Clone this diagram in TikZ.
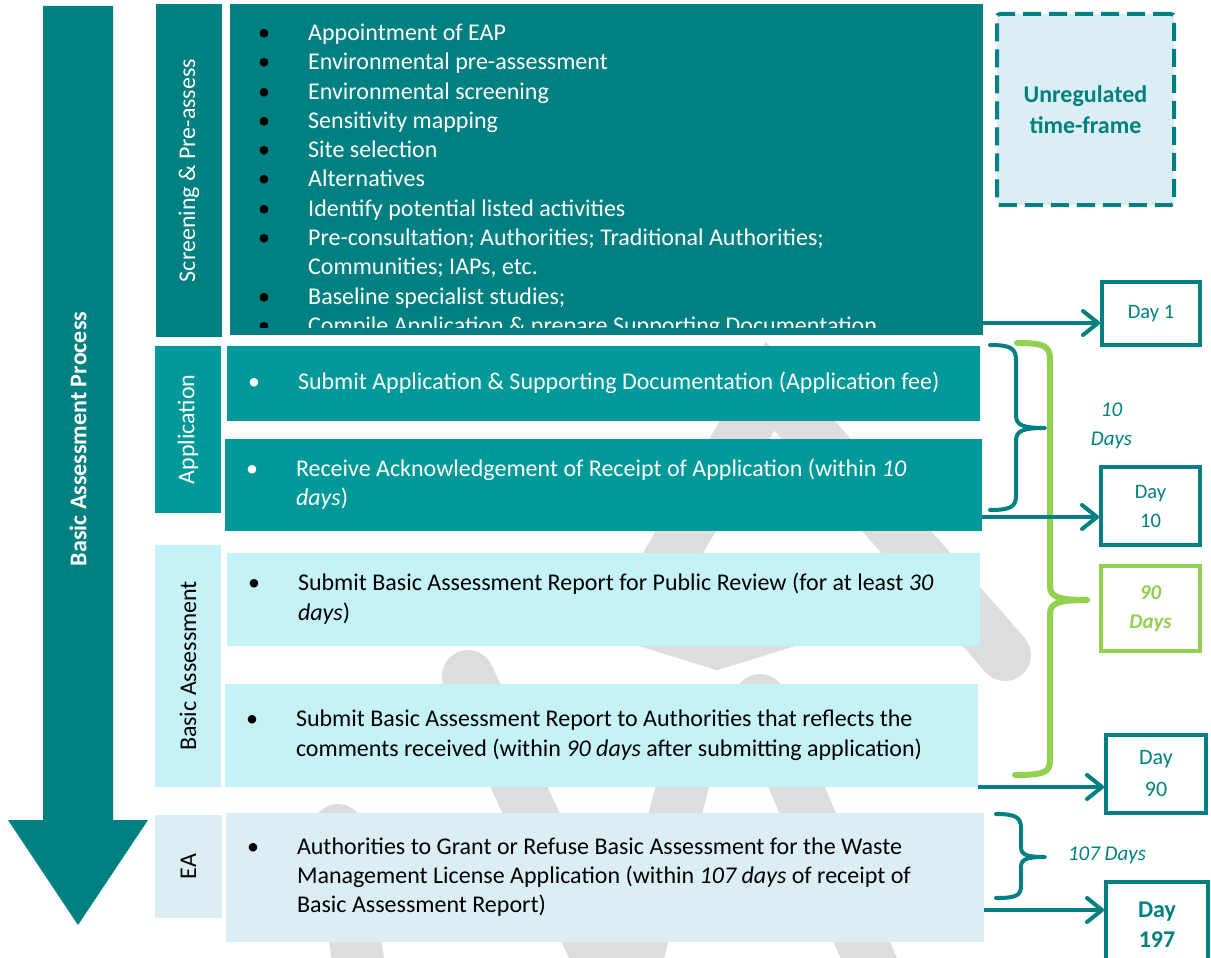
\documentclass[tikz,border=0pt]{standalone}
\usepackage{fontspec}
\setmainfont{Carlito}
\usetikzlibrary{arrows.meta}
\definecolor{tealdark}{HTML}{008080}
\definecolor{tealmid}{HTML}{009999}
\definecolor{cyanlight}{HTML}{C4F2F7}
\definecolor{bluelight}{HTML}{DAEEF3}
\definecolor{limegreen}{HTML}{92D050}
\definecolor{wmgray}{HTML}{DDDDDD}
\newcommand{\bodyfont}{\fontsize{24}{29.3}\selectfont}
\newcommand{\blk}{\textcolor{black}{\textbullet}}
\newcommand{\bpt}[2][.]{\spaceskip=0pt\xspaceskip=0pt\relax\begin{tabular}[t]{@{}p{50pt}@{}l@{}}\textcolor{#1}{\textbullet} & #2\end{tabular}}
\begin{document}
\begin{tikzpicture}[x=1pt, y=-1pt,
  wmline/.style={draw=wmgray, line width=52pt, line cap=round, line join=miter},
  stage/.style={fill=#1, inner sep=0pt, outer sep=0pt, anchor=north west},
  task/.style={stage=#1, inner xsep=21pt, inner ysep=0pt, font=\bodyfont},
  phase/.style={fill=#1, rotate=90, inner sep=0pt, outer sep=0pt, font=\bodyfont},
  daybox/.style={draw=tealdark, line width=4pt, fill=white, align=center, inner sep=0pt, text=tealdark},
  link/.style={draw=tealdark, line width=4pt, -{Straight Barb[length=15pt, width=24pt, round]}},
  curly/.style={draw=tealdark, line width=4pt, line cap=round, line join=round}]
\useasboundingbox (0,0) rectangle (1211,958);
% watermark
\draw[wmline] (640,610) -- (770,386) -- (1005,655);
\draw[wmline] (617,612) -- (717,643) -- (817,612);
\draw[wmline] (468,676) -- (610,985);
\draw[wmline] (338,830) -- (362,985);
\draw[wmline] (700,720) -- (630,985);
\draw[wmline] (760,700) -- (880,985);
% process arrow
\fill[tealdark] (43,6) -- (113,6) -- (113,820) -- (148,820) -- (78,925) -- (8,820) -- (43,820) -- cycle;
\node[rotate=90, text=white, font=\bfseries\fontsize{24}{29}\selectfont] (proc) at (78,439) {Basic Assessment Process};
% phases
\node[phase=tealdark, text=white, minimum width=333pt, minimum height=66pt] (scrh) at (189,170.5) {Screening \& Pre-assess};
\node[phase=tealmid, text=white, minimum width=167pt, minimum height=66pt] (apph) at (188,429.5) {Application};
\node[phase=cyanlight, text=black, minimum width=242pt, minimum height=66pt] (bah) at (188,666) {Basic Assessment};
\node[phase=bluelight, text=black, minimum width=103pt, minimum height=67pt] (eah) at (188.5,866.5) {EA};
% screening box
\node[stage=tealdark, minimum width=753pt, minimum height=331pt] (scr) at (230,4) {};
\begin{scope}
\clip (scr.north west) rectangle ([yshift=8pt]scr.south east);
\node[anchor=base west, inner sep=0pt, text=white, font=\bodyfont] (scrt) at (258,40.5) {\begin{tabular}[t]{@{}p{50pt}@{}l@{}}
\blk & Appointment of EAP\\
\blk & Environmental pre-assessment\\
\blk & Environmental screening\\
\blk & Sensitivity mapping\\
\blk & Site selection\\
\blk & Alternatives\\
\blk & Identify potential listed activities\\
\blk & Pre-consultation; Authorities; Traditional Authorities;\\
     & Communities; IAPs, etc.\\
\blk & Baseline specialist studies;\\
\blk & Compile Application \& prepare Supporting Documentation
\end{tabular}};
\end{scope}
% task boxes
\node[task=tealmid, text=white, text width=711pt, minimum height=75pt] (app1) at (227,346) {\bpt{Submit Application \& Supporting Documentation (Application fee)}};
\node[task=tealmid, text=white, text width=715pt, minimum height=92pt] (app2) at (225,439) {\bpt{Receive Acknowledgement of Receipt of Application (within \textit{10}\\ & \textit{days})}};
\node[task=cyanlight, text=black, text width=711pt, minimum height=93pt] (ba1) at (227,553) {\bpt{Submit Basic Assessment Report for Public Review (for at least \textit{30}\\ & \textit{days})}};
\node[task=cyanlight, text=black, text width=711pt, minimum height=103pt] (ba2) at (225,684) {\bpt{Submit Basic Assessment Report to Authorities that reflects the\\ & comments received (within \textit{90 days} after submitting application)}};
\node[task=bluelight, text=black, text width=716pt, minimum height=129pt] (ea) at (226,813) {\bpt{Authorities to Grant or Refuse Basic Assessment for the Waste\\ & Management License Application (within \textit{107 days} of receipt of\\ & Basic Assessment Report)}};
% unregulated
\node[draw=tealdark, line width=4pt, dash pattern=on 18pt off 8pt, rounded corners=3pt, fill=bluelight, minimum width=177pt, minimum height=191pt, align=center, text=tealdark, font=\bfseries\fontsize{24}{31}\selectfont] (unreg) at (1085.5,109.5) {Unregulated\\time-frame};
% braces
\draw[draw=limegreen, line width=6pt, line cap=round, line join=round] (1017,343) .. controls (1045,343) and (1050,346) .. (1050,360) -- (1050,586) .. controls (1050,597) and (1058,600) .. (1087,600) .. controls (1058,600) and (1050,603) .. (1050,614) -- (1050,760) .. controls (1050,772) and (1045,775) .. (1015,775);
\draw[curly] (990,345) .. controls (1010,345) and (1016,348) .. (1016,360) -- (1016,415) .. controls (1016,425) and (1022,428) .. (1045,428) .. controls (1022,428) and (1016,431) .. (1016,441) -- (1016,496) .. controls (1016,507) and (1010,510) .. (990,510);
\draw[curly] (996,814) .. controls (1015,814) and (1021,817) .. (1021,828) -- (1021,847) .. controls (1021,855) and (1027,857) .. (1045,857) .. controls (1027,857) and (1021,859) .. (1021,867) -- (1021,886) .. controls (1021,896) and (1015,898) .. (996,898);
\node[text=tealdark, align=center, font=\itshape\fontsize{21}{29}\selectfont] (ten) at (1111.5,425.5) {10\\Days};
\node[text=tealdark, font=\itshape\fontsize{21}{25}\selectfont] (seven) at (1107,855) {107 Days};
% day boxes
\node[daybox, minimum width=98pt, minimum height=63pt, font=\fontsize{20.5}{29}\selectfont] (day1) at (1151,313.5) {Day 1};
\node[daybox, minimum width=99pt, minimum height=78pt, font=\fontsize{20.5}{29}\selectfont] (day10) at (1150.5,506) {Day\\10};
\node[daybox, draw=limegreen, text=limegreen, minimum width=99pt, minimum height=85pt, font=\bfseries\itshape\fontsize{21}{29}\selectfont] (ninety) at (1150.5,608.5) {90\\Days};
\node[daybox, minimum width=100pt, minimum height=78pt, font=\fontsize{22}{32}\selectfont] (day90) at (1156,774) {Day\\90};
\node[daybox, minimum width=102pt, minimum height=86pt, font=\bfseries\fontsize{24}{30}\selectfont] (day197) at (1157,925) {Day\\197};
% arrows
\coordinate (a1) at ([yshift=12pt]scr.south east);
\coordinate (a2) at ([yshift=14pt]app2.south east);
\coordinate (a3) at (ba2.south east);
\coordinate (a4) at ([yshift=32pt]ea.south east);
\draw[link] (a1) -- (a1 -| day1.west);
\draw[link] (a2) -- (a2 -| day10.west);
\draw[link] (a3) -- (a3 -| day90.west);
\draw[link] (a4) -- (a4 -| day197.west);
\end{tikzpicture}
\end{document}
